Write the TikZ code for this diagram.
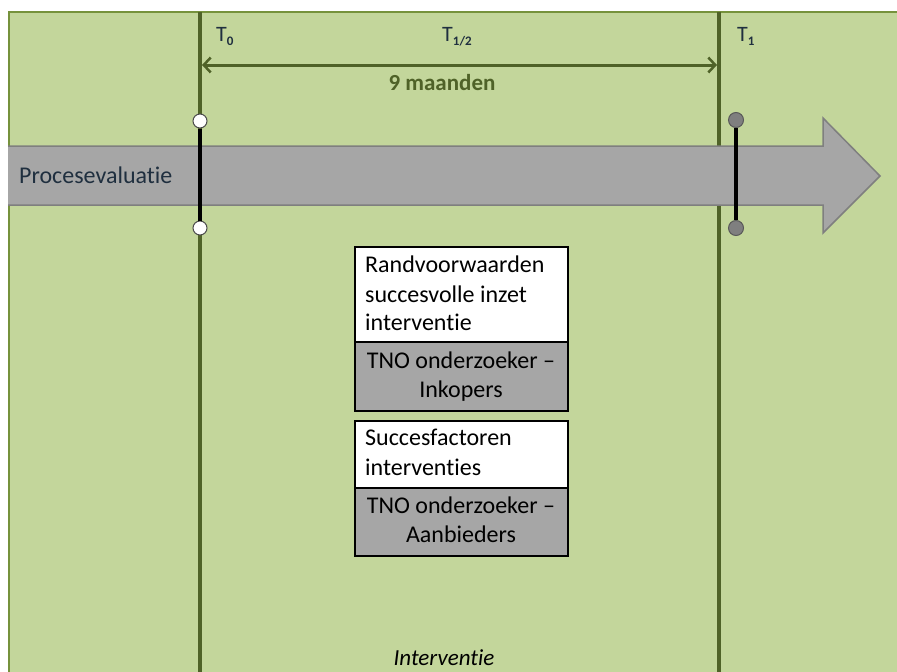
\documentclass[tikz,border=0pt]{standalone}
\usepackage{fontspec}
\setmainfont{Carlito}[Ligatures=NoCommon]
\usetikzlibrary{arrows.meta}

\definecolor{fieldgreen}{HTML}{C3D69B}
\definecolor{fieldedge}{HTML}{76923C}
\definecolor{phaseline}{HTML}{4F6228}
\definecolor{procgray}{HTML}{A6A6A6}
\definecolor{procedge}{HTML}{7F7F7F}
\definecolor{labelink}{HTML}{1F2F3F}

\tikzset{
  phase/.style={draw=phaseline, line width=4pt},
  span/.style={draw=phaseline, line width=3pt, {Straight Barb[length=7pt,width=15pt,line width=2.5pt]}-{Straight Barb[length=7pt,width=15pt,line width=2.5pt]}},
  bar/.style={draw=black, line width=4pt},
  opendot/.style={circle, draw=black!70, line width=1pt, fill=white, minimum size=14pt, inner sep=0pt},
  shutdot/.style={circle, draw=black!65, line width=1pt, fill=procedge, minimum size=15pt, inner sep=0pt},
  cellwhite/.style={draw=black, line width=1.4pt, fill=white},
  cellgray/.style={draw=black, line width=1.4pt, fill=procgray},
  celltext/.style={anchor=base west, inner sep=0pt, font=\fontsize{24}{29}\selectfont},
  cellcenter/.style={anchor=base, inner sep=0pt, font=\fontsize{24}{29}\selectfont},
  tlabel/.style={anchor=base west, inner sep=0pt, text=labelink, font=\fontsize{22}{26}\selectfont},
}

\newcommand{\tsub}[1]{\raisebox{-4pt}{\fontsize{13}{13}\selectfont\bfseries #1}}

\begin{document}
\begin{tikzpicture}[x=1pt,y=-1pt]
  \useasboundingbox (0,0) rectangle (897,672);
  \fill[white] (0,0) rectangle (897,672);

  % timeline field
  \draw[draw=fieldedge, fill=fieldgreen, line width=2pt] (9,12) rectangle (905,680);

  % phase boundaries
  \draw[phase] (200,12) -- (200,672);
  \draw[phase] (719,12) -- (719,672);

  % time labels
  \node[tlabel] (t0) at (216,41) {T\tsub{0}};
  \node[tlabel] (thalf) at (442,41) {T\tsub{1/2}};
  \node[tlabel] (t1) at (737,41) {T\tsub{1}};

  % duration of the intervention
  \coordinate (spanL) at (202,65);
  \coordinate (spanR) at (717,65);
  \draw[span] (spanL) -- (spanR);
  \node[anchor=base, inner sep=0pt, text=phaseline, font=\fontsize{23}{27}\selectfont\bfseries] (dur) at (442,90) {9 maanden};

  % process evaluation arrow
  \fill[procgray] (8,146) -- (823,146) -- (823,118) -- (880,176) -- (823,233) -- (823,205) -- (8,205) -- cycle;
  \draw[procedge, line width=1.5pt, line join=miter] (8,146) -- (823,146) -- (823,118) -- (880,176) -- (823,233) -- (823,205) -- (8,205);
  \node[anchor=base west, inner sep=0pt, text=labelink, font=\fontsize{24}{29}\selectfont] (proc) at (19,183) {Procesevaluatie};

  % measurement markers
  \node[opendot] (m0top) at (200,121) {};
  \node[opendot] (m0bot) at (200,228) {};
  \draw[bar] (m0top) -- (m0bot);
  \node[shutdot] (m1top) at (736,120) {};
  \node[shutdot] (m1bot) at (736,228) {};
  \draw[bar] (m1top) -- (m1bot);

  % first block
  \draw[cellwhite] (355,247) rectangle (568,342);
  \draw[cellgray] (355,342) rectangle (568,411);
  \node[celltext] (a1) at (365,272) {Randvoorwaarden};
  \node[celltext] (a2) at (365,302) {succesvolle inzet};
  \node[celltext] (a3) at (365,330) {interventie};
  \node[cellcenter] (a4) at (461,368) {TNO onderzoeker –};
  \node[cellcenter] (a5) at (461,397) {Inkopers};

  % second block
  \draw[cellwhite] (355,421) rectangle (568,488);
  \draw[cellgray] (355,488) rectangle (568,556);
  \node[celltext] (b1) at (365,445) {Succesfactoren};
  \node[celltext] (b2) at (365,475) {interventies};
  \node[cellcenter] (b3) at (461,513) {TNO onderzoeker –};
  \node[cellcenter] (b4) at (461,542) {Aanbieders};

  % phase name
  \node[anchor=base, inner sep=0pt, font=\fontsize{23}{27}\selectfont\itshape] (phase) at (444,665) {Interventie};
\end{tikzpicture}
\end{document}
